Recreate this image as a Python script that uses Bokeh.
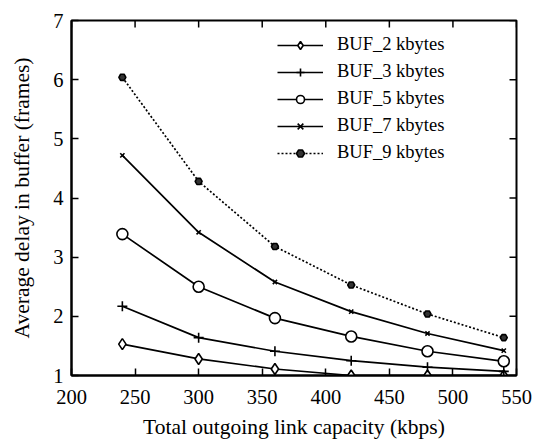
import math
from bokeh.plotting import figure
from bokeh.models import Range1d, FixedTicker, Legend, LegendItem
from bokeh.embed import file_html
from bokeh.resources import INLINE

capacity = [240, 300, 360, 420, 480, 540]
buf2 = [1.53, 1.28, 1.11, 1.00, 1.00, 1.00]
buf3 = [2.17, 1.64, 1.41, 1.25, 1.14, 1.07]
buf5 = [3.39, 2.50, 1.97, 1.66, 1.41, 1.24]
buf7 = [4.72, 3.42, 2.58, 2.08, 1.71, 1.42]
buf9 = [6.04, 4.28, 3.18, 2.53, 2.04, 1.64]
labels = ["BUF_2 kbytes", "BUF_3 kbytes", "BUF_5 kbytes", "BUF_7 kbytes", "BUF_9 kbytes"]
x_ticks = [200, 250, 300, 350, 400, 450, 500, 550]
y_ticks = [1, 2, 3, 4, 5, 6, 7]
x_min, x_max = 200, 550
y_min, y_max = 1, 7

FONT = "Liberation Serif"

p = figure(width=534, height=442, output_backend="svg", toolbar_location=None,
           x_range=Range1d(x_min, x_max), y_range=Range1d(y_min, y_max),
           min_border_left=71, min_border_right=18, min_border_top=20, min_border_bottom=67)
p.background_fill_color = "white"
p.border_fill_color = "white"
p.outline_line_color = "black"
p.outline_line_width = 2
p.xgrid.visible = False
p.ygrid.visible = False

p.xaxis.axis_label = "Total outgoing link capacity (kbps)"
p.yaxis.axis_label = "Average delay in buffer (frames)"
p.xaxis.ticker = FixedTicker(ticks=x_ticks)
p.yaxis.ticker = FixedTicker(ticks=y_ticks)
for ax in (p.xaxis[0], p.yaxis[0]):
    ax.axis_label_text_font = FONT
    ax.axis_label_text_font_style = "normal"
    ax.axis_label_text_font_size = "21.5px"
    ax.axis_label_text_color = "black"
    ax.major_label_text_font = FONT
    ax.major_label_text_font_size = "20.5px"
    ax.major_label_text_color = "black"
    ax.major_tick_in = 7
    ax.major_tick_out = 0
    ax.minor_tick_in = 0
    ax.minor_tick_out = 0
    ax.axis_line_width = 2
    ax.axis_line_color = "black"
    ax.major_tick_line_width = 1.5
    ax.major_tick_line_color = "black"
p.xaxis.major_label_standoff = 14
p.yaxis.major_label_standoff = 8
p.xaxis.axis_label_standoff = 8
p.yaxis.axis_label_standoff = 16

# mirrored inside ticks on the top and right edges (half of each dash is clipped by the frame)
p.scatter(x_ticks, [y_max] * len(x_ticks), marker="dash", size=14, angle=math.pi / 2,
          line_color="black", line_width=1.5)
p.scatter([x_max] * len(y_ticks), y_ticks, marker="dash", size=14,
          line_color="black", line_width=1.5)

series = [buf2, buf3, buf5, buf7, buf9]
markers = ["diamond", "cross", "circle", "x", "hex"]
sizes = [11, 10, 11, 6, 7]
dashes = ["solid", "solid", "solid", "solid", "2 2"]
items = []
for ys, lab, mk, sz, dash in zip(series, labels, markers, sizes, dashes):
    l = p.line(capacity, ys, line_color="black", line_width=1.7, line_dash=dash)
    m = p.scatter(capacity, ys, marker=mk, size=sz, line_color="black",
                  fill_color="white" if mk != "hex" else "#333333", line_width=1.6)
    items.append(LegendItem(label=lab, renderers=[l, m]))

legend = Legend(items=items, location=(206, 212), background_fill_alpha=0,
                border_line_color=None, label_text_font=FONT, label_text_font_size="18.5px",
                label_text_color="black",
                glyph_width=46, glyph_height=20, label_height=20, spacing=6,
                label_standoff=14, padding=0, margin=0)
p.add_layout(legend, "center")

open("out.html", "w").write(file_html(p, INLINE))
